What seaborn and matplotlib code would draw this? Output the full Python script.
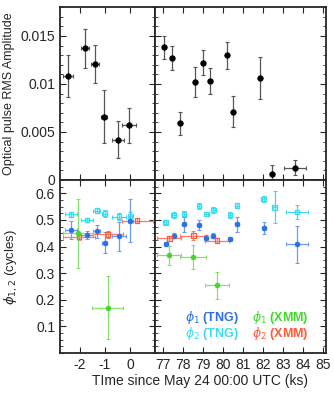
import matplotlib
matplotlib.use("Agg")
import matplotlib.pyplot as plt
import seaborn as sns
import numpy as np
from matplotlib.ticker import MultipleLocator, FixedLocator, FixedFormatter

# ─── Data ────────────────────────────────────────────────────────────────────
# top panel: optical pulse RMS amplitude, pre-burst window (left) and late window (right)
rms_t_left = [-2.47, -1.79, -1.39, -1.05, -0.47, -0.03]
rms_xerr_left = [0.2, 0.15, 0.15, 0.12, 0.24, 0.27]
rms_left = [0.0108, 0.0137, 0.0121, 0.0066, 0.0042, 0.0057]
rms_err_left = [0.0022, 0.0020, 0.0020, 0.0028, 0.0019, 0.0018]

rms_t_right = [77.05, 77.45, 77.85, 78.62, 79.0, 79.35, 80.18, 80.52, 81.87, 82.45, 83.6]
rms_xerr_right = [0.1, 0.1, 0.1, 0.05, 0.1, 0.1, 0.05, 0.05, 0.05, 0.1, 0.54]
rms_right = [0.0138, 0.0127, 0.0059, 0.0102, 0.0122, 0.0103, 0.0130, 0.0071, 0.0106, 0.0006, 0.0013]
rms_err_right = [0.0012, 0.0013, 0.0012, 0.0016, 0.0013, 0.0014, 0.0014, 0.0016, 0.0022, 0.0010, 0.0008]

# bottom panel: phases phi1 / phi2, TNG
tng_t_left = [-2.36, -1.71, -1.33, -1.01, -0.43, 0.01]
tng_xerr_left = [0.23, 0.23, 0.15, 0.1, 0.29, 0.1]
phi1_tng_left = [0.4625, 0.444, 0.4575, 0.415, 0.439, 0.4975]
phi1_tng_err_left = [0.035, 0.016, 0.024, 0.04, 0.055, 0.08]
phi2_tng_left = [0.521, 0.500, 0.535, 0.524, 0.5125, 0.515]
phi2_tng_err_left = [0.01, 0.008, 0.01, 0.012, 0.012, 0.015]

tng_t_right = [77.13, 77.53, 78.05, 78.8, 79.17, 79.52, 80.35, 80.7, 82.03, 82.58, 83.7]
tng_xerr_right = [0.1, 0.1, 0.1, 0.1, 0.1, 0.1, 0.1, 0.1, 0.1, 0.1, 0.57]
phi1_tng_right = [0.409, 0.441, 0.484, 0.481, 0.4325, 0.441, 0.4275, 0.484, 0.469, np.nan, 0.409]
phi1_tng_err_right = [0.008, 0.01, 0.028, 0.02, 0.01, 0.01, 0.008, 0.028, 0.022, 0.0, 0.069]
phi2_tng_right = [0.491, 0.519, 0.5225, 0.5525, 0.5225, 0.5375, 0.519, 0.554, 0.579, 0.5475, 0.529]
phi2_tng_err_right = [0.008, 0.01, 0.01, 0.01, 0.008, 0.01, 0.01, 0.01, 0.012, 0.06, 0.027]

# bottom panel: phases, XMM
xmm_t_left = [-2.04, -0.87, 0.29]
xmm_xerr_left = [0.63, 0.6, 0.62]
phi2_xmm_left = [0.435, 0.446, 0.4975]
phi2_xmm_err_left = [0.012, 0.012, 0.01]
phi1_xmm_t_left = [-2.09, -0.89]
phi1_xmm_xerr_left = [0.6, 0.61]
phi1_xmm_left = [0.45, 0.171]
phi1_xmm_err_left = [0.13, 0.118]

xmm_t_right = [77.32, 78.52, 79.7]
xmm_xerr_right = [0.6, 0.65, 0.58]
phi2_xmm_right = [0.431, 0.441, 0.4225]
phi2_xmm_err_right = [0.01, 0.016, 0.01]
phi1_xmm_right = [0.3675, 0.3625, 0.254]
phi1_xmm_err_right = [0.035, 0.045, 0.05]

C_TNG1 = "#2d6fe6"
C_TNG2 = "#3adcf0"
C_XMM1 = "#44d62a"
C_XMM2 = "#ff5a3a"

sns.set_style("ticks")
plt.rcParams["font.family"] = ["Liberation Sans", "DejaVu Sans"]
plt.rcParams["font.size"] = 10
plt.rcParams["mathtext.fontset"] = "dejavusans"
plt.rcParams["axes.unicode_minus"] = False

fig = plt.figure(figsize=(3.34, 3.93), dpi=100)
L, WL, WR = 0.1796, 0.2844, 0.512
B_BOT, B_TOP, H = 0.1018, 0.542, 0.440
ax_tl = fig.add_axes([L, B_TOP, WL, H])
ax_tr = fig.add_axes([L + WL, B_TOP, WR, H])
ax_bl = fig.add_axes([L, B_BOT, WL, H])
ax_br = fig.add_axes([L + WL, B_BOT, WR, H])


def errs(ax, x, y, xe, ye, color, ecolor, marker, filled=True, ms=3.5):
    ax.errorbar(x, y, xerr=xe, yerr=ye, fmt="none", ecolor=ecolor,
                elinewidth=0.9, capsize=1.2, capthick=0.8, zorder=2)
    if filled:
        sns.scatterplot(x=x, y=y, ax=ax, color=color, marker=marker, s=ms ** 2,
                        edgecolor=color, linewidth=0.5, zorder=3, legend=False)
    else:
        sns.scatterplot(x=x, y=y, ax=ax, marker=marker, s=ms ** 2, facecolor="none",
                        edgecolor=color, linewidth=0.9, zorder=3, legend=False)


# ─── top panels ──────────────────────────────────────────────────────────────
errs(ax_tl, rms_t_left, rms_left, rms_xerr_left, rms_err_left, "black", "#555555", "o", ms=4)
errs(ax_tr, rms_t_right, rms_right, rms_xerr_right, rms_err_right, "black", "#555555", "o", ms=4)

# ─── bottom panels ───────────────────────────────────────────────────────────
for ax, t, te, p1, p1e, p2, p2e in [
    (ax_bl, tng_t_left, tng_xerr_left, phi1_tng_left, phi1_tng_err_left, phi2_tng_left, phi2_tng_err_left),
    (ax_br, tng_t_right, tng_xerr_right, phi1_tng_right, phi1_tng_err_right, phi2_tng_right, phi2_tng_err_right),
]:
    errs(ax, t, p2, te, p2e, C_TNG2, C_TNG2, "s", filled=False, ms=3.2)
    errs(ax, t, p1, te, p1e, C_TNG1, "#6f9cf0", "o", ms=3.5)

errs(ax_bl, xmm_t_left, phi2_xmm_left, xmm_xerr_left, phi2_xmm_err_left, C_XMM2, "#ff7a60", "s", filled=False, ms=3.2)
errs(ax_bl, phi1_xmm_t_left, phi1_xmm_left, phi1_xmm_xerr_left, phi1_xmm_err_left, C_XMM1, "#88e070", "o")
errs(ax_br, xmm_t_right, phi2_xmm_right, xmm_xerr_right, phi2_xmm_err_right, C_XMM2, "#ff7a60", "s", filled=False, ms=3.2)
errs(ax_br, xmm_t_right, phi1_xmm_right, xmm_xerr_right, phi1_xmm_err_right, C_XMM1, "#88e070", "o")

# ─── axes styling ────────────────────────────────────────────────────────────
for ax in (ax_tl, ax_tr, ax_bl, ax_br):
    for s in ax.spines.values():
        s.set_linewidth(1.3)
        s.set_visible(True)
    ax.tick_params(which="both", direction="in", top=True, right=True, labelsize=10)
    ax.tick_params(which="major", length=4, width=0.8)
    ax.tick_params(which="minor", length=2, width=0.6)

for ax in (ax_tl, ax_bl):
    ax.set_xlim(-2.8, 1.0)
    ax.xaxis.set_major_locator(FixedLocator([-2, -1, 0]))
for ax in (ax_tr, ax_br):
    ax.set_xlim(76.6, 85.15)
    ax.xaxis.set_major_locator(MultipleLocator(1))

for ax in (ax_tl, ax_tr):
    ax.set_ylim(0, 0.018)
    ax.yaxis.set_major_locator(FixedLocator([0, 0.005, 0.01, 0.015]))
    ax.yaxis.set_major_formatter(FixedFormatter(["0", "0.005", "0.01", "0.015"]))
    ax.yaxis.set_minor_locator(MultipleLocator(0.001))
    ax.tick_params(labelbottom=False)
for ax in (ax_bl, ax_br):
    ax.set_ylim(0, 0.65)
    ax.yaxis.set_major_locator(FixedLocator([0.1, 0.2, 0.3, 0.4, 0.5, 0.6]))
    ax.yaxis.set_major_formatter(FixedFormatter(["0.1", "0.2", "0.3", "0.4", "0.5", "0.6"]))
    ax.yaxis.set_minor_locator(MultipleLocator(0.025))
for ax in (ax_tr, ax_br):
    ax.tick_params(labelleft=False)

ax_tl.set_ylabel("Optical pulse RMS Amplitude", fontsize=9)
ax_bl.set_ylabel(r"$\phi_{1,2}$ (cycles)", fontsize=9.5)
ax_tl.yaxis.set_label_coords(-0.47, 0.5)
ax_bl.yaxis.set_label_coords(-0.42, 0.5)
fig.text(0.60, 0.012, "TIme since May 24 00:00 UTC (ks)", ha="center", va="bottom", fontsize=10)

# legend as coloured text
kw = dict(transform=ax_br.transAxes, fontsize=9, fontweight="bold", va="center")
ax_br.text(0.175, 0.205, r"$\phi_1$ (TNG)", color=C_TNG1, **kw)
ax_br.text(0.175, 0.115, r"$\phi_2$ (TNG)", color=C_TNG2, **kw)
ax_br.text(0.565, 0.205, r"$\phi_1$ (XMM)", color=C_XMM1, **kw)
ax_br.text(0.565, 0.115, r"$\phi_2$ (XMM)", color=C_XMM2, **kw)

fig.savefig("out.png", dpi=100)
